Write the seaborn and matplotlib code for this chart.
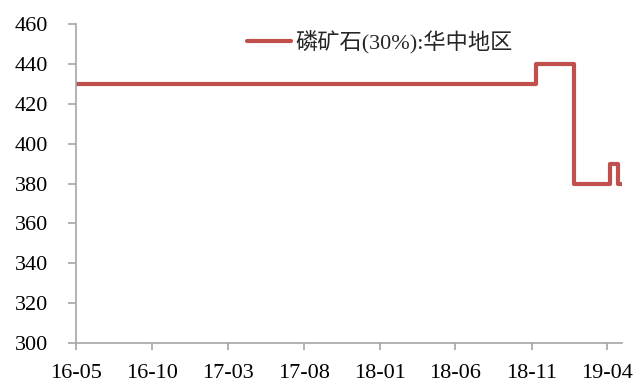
import seaborn as sns
import matplotlib.pyplot as plt
import pandas as pd

# breakpoints of the step series (value holds until next date)
dates = ['2016-05-01', '2018-11-09', '2019-01-24', '2019-04-07', '2019-04-23', '2019-05-01']
prices = [430, 440, 380, 390, 380, 380]
label = '磷矿石(30%):华中地区'

tick_dates = pd.date_range('2016-05-01', periods=8, freq='5MS')
tick_labels = ['16-05', '16-10', '17-03', '17-08', '18-01', '18-06', '18-11', '19-04']

sns.set_style('white')
plt.rcParams['font.family'] = ['Liberation Serif', 'Noto Sans CJK SC']

df = pd.DataFrame({'date': pd.to_datetime(dates), 'price': prices})

fig = plt.figure(figsize=(6.36, 3.83), dpi=100)
fig.subplots_adjust(left=0.1195, right=0.978, bottom=0.1044, top=0.937)
ax = plt.axes()

sns.lineplot(data=df, x='date', y='price', drawstyle='steps-post', color='#c0504d',
             linewidth=3, label=label, ax=ax)

ax.set_xlim(pd.Timestamp('2016-05-01'), pd.Timestamp('2019-05-01'))
ax.set_ylim(300, 460)
ax.set_yticks(range(300, 461, 20))
ax.set_xticks(tick_dates)
ax.set_xticklabels(tick_labels)
ax.tick_params(axis='both', labelsize=16, labelcolor='black', color='#a6a6a6',
               width=1.2, direction='out', bottom=True, left=True)
ax.tick_params(axis='x', length=5, pad=10)
ax.tick_params(axis='y', length=6, pad=14)
for s in ['top', 'right']:
    ax.spines[s].set_visible(False)
for s in ['left', 'bottom']:
    ax.spines[s].set_color('#a6a6a6')
    ax.spines[s].set_linewidth(1.2)
ax.set_xlabel('')
ax.set_ylabel('')

ax.legend(loc='upper left', bbox_to_anchor=(0.276, 1.045), frameon=False, fontsize=16,
          handlelength=2.0, handletextpad=0.2)

plt.savefig('out.png', dpi=100)
